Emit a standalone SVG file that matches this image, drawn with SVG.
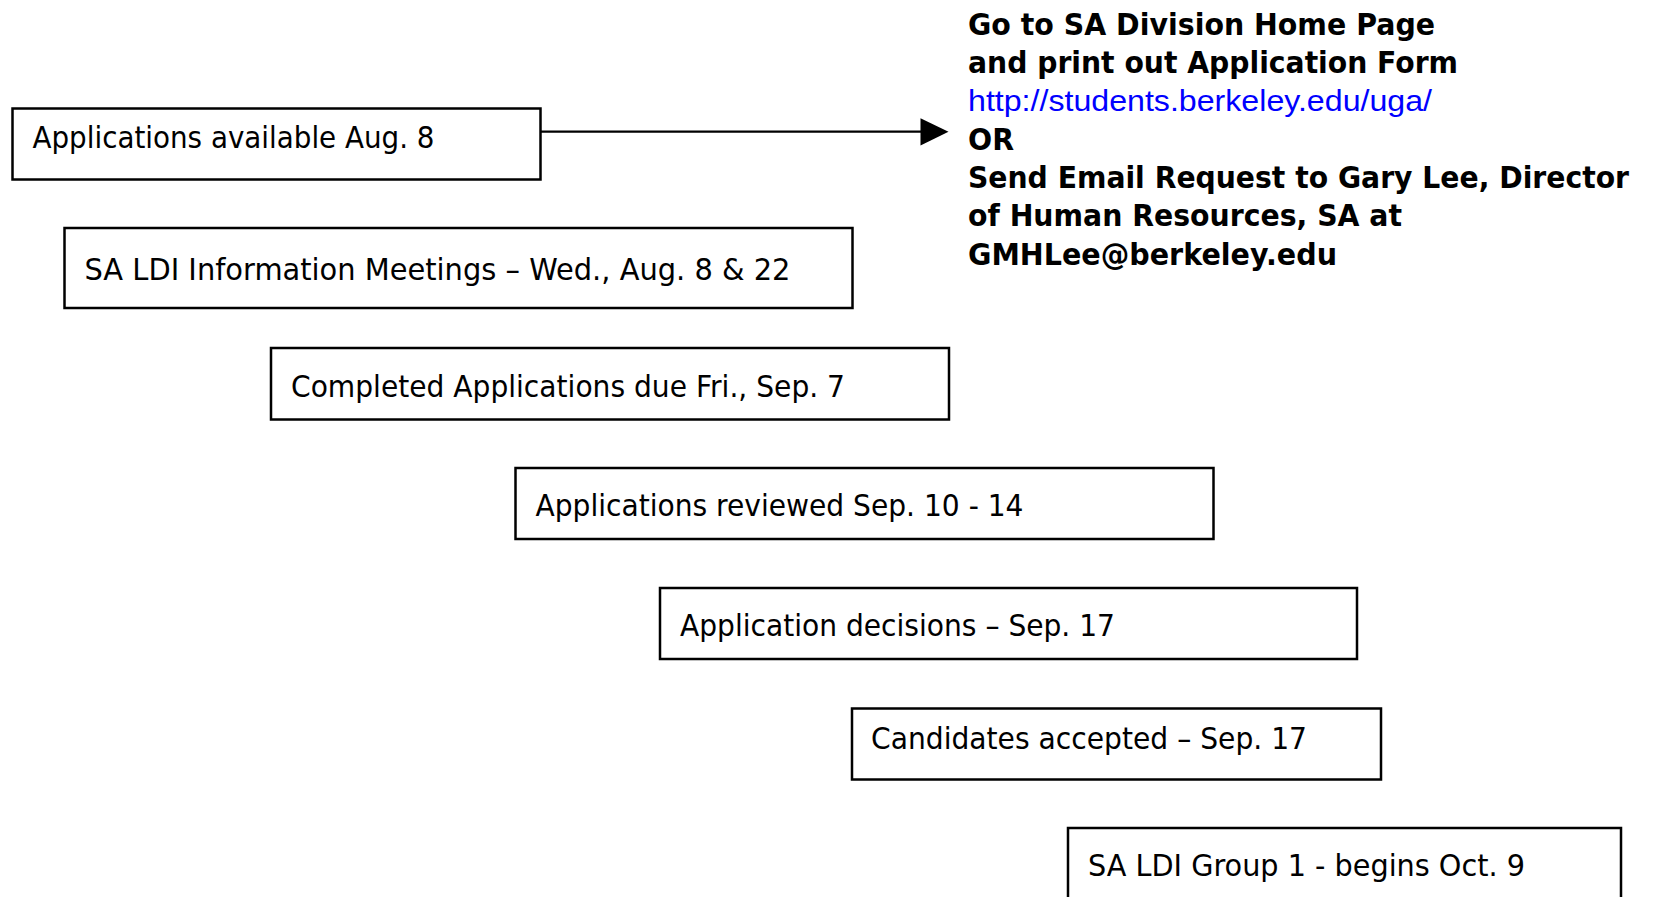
<svg xmlns="http://www.w3.org/2000/svg" width="1653" height="897" viewBox="0 0 1653 897">
<defs>
<style>
.box{fill:#ffffff;stroke:#000000;stroke-width:2.5}
.t{font-family:"DejaVu Sans","Liberation Sans",sans-serif;font-size:30.5px;fill:#000000}
.b{font-family:"DejaVu Sans","Liberation Sans",sans-serif;font-size:30px;font-weight:bold;fill:#000000}
.link{font-family:"Liberation Sans",Arial,sans-serif;font-size:29px;fill:#0000ff}
.conn{stroke:#000000;stroke-width:2.2;fill:none}
</style>
</defs>
<rect width="1653" height="897" fill="#ffffff"/>
<g id="connectors">
<line class="conn" x1="541" y1="131.7" x2="922" y2="131.7"/>
<polygon points="920.5,118.3 948.5,131.7 920.5,145.5" fill="#000000"/>
</g>
<g id="node-1">
<rect class="box" x="12.5" y="108.5" width="528" height="71"/>
<text class="t" x="32.5" y="148" textLength="402" lengthAdjust="spacingAndGlyphs">Applications available Aug. 8</text>
</g>
<g id="node-2">
<rect class="box" x="64.5" y="228" width="788" height="80"/>
<text class="t" x="84.5" y="279.5" textLength="706" lengthAdjust="spacingAndGlyphs">SA LDI Information Meetings – Wed., Aug. 8 &amp; 22</text>
</g>
<g id="node-3">
<rect class="box" x="271" y="348" width="678" height="71.5"/>
<text class="t" x="291" y="397" textLength="554" lengthAdjust="spacingAndGlyphs">Completed Applications due Fri., Sep. 7</text>
</g>
<g id="node-4">
<rect class="box" x="515.5" y="468" width="698" height="71"/>
<text class="t" x="535.5" y="516" textLength="488" lengthAdjust="spacingAndGlyphs">Applications reviewed Sep. 10 - 14</text>
</g>
<g id="node-5">
<rect class="box" x="660" y="588" width="697" height="71"/>
<text class="t" x="680" y="636" textLength="435" lengthAdjust="spacingAndGlyphs">Application decisions – Sep. 17</text>
</g>
<g id="node-6">
<rect class="box" x="852" y="708.5" width="529" height="71"/>
<text class="t" x="871" y="749" textLength="436" lengthAdjust="spacingAndGlyphs">Candidates accepted – Sep. 17</text>
</g>
<g id="node-7">
<rect class="box" x="1068" y="828" width="553" height="100"/>
<text class="t" x="1088" y="875.5" textLength="437" lengthAdjust="spacingAndGlyphs">SA LDI Group 1 - begins Oct. 9</text>
</g>
<g id="node-instructions">
<text class="b" x="968" y="34.5" textLength="467" lengthAdjust="spacingAndGlyphs">Go to SA Division Home Page</text>
<text class="b" x="968" y="72.8" textLength="490" lengthAdjust="spacingAndGlyphs">and print out Application Form</text>
<text class="link" x="968" y="111.2" textLength="464" lengthAdjust="spacingAndGlyphs">http://students.berkeley.edu/uga/</text>
<text class="b" x="968" y="149.5" textLength="46" lengthAdjust="spacingAndGlyphs">OR</text>
<text class="b" x="968" y="187.8" textLength="661" lengthAdjust="spacingAndGlyphs">Send Email Request to Gary Lee, Director</text>
<text class="b" x="968" y="226.2" textLength="434" lengthAdjust="spacingAndGlyphs">of Human Resources, SA at</text>
<text class="b" x="968" y="264.5" textLength="369" lengthAdjust="spacingAndGlyphs">GMHLee@berkeley.edu</text>
</g>
</svg>
